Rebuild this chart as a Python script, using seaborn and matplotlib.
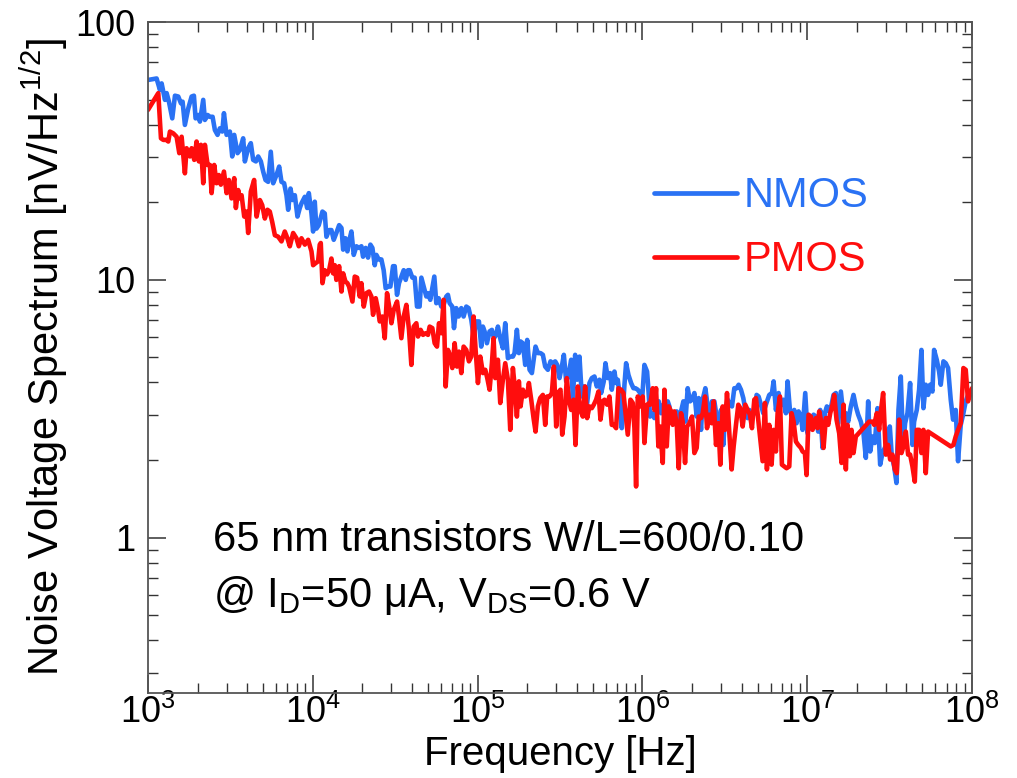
import matplotlib
matplotlib.use("Agg")
import matplotlib.pyplot as plt
import seaborn as sns
import pandas as pd
from matplotlib.ticker import LogLocator, NullFormatter, FuncFormatter

# Noise spectra of 65 nm transistors (W/L = 600/0.10), I_D = 50 uA, V_DS = 0.6 V
nmos_freq = [
    1000, 1128, 1182, 1210, 1268, 1298, 1340, 1404, 1458, 1527, 1585, 1622, 1675, 1755, 1840, 1900,
    1945, 2018, 2066, 2164, 2215, 2300, 2376, 2466, 2547, 2643, 2730, 2825, 2890, 2999, 3140, 3245,
    3337, 3494, 3610, 3781, 3871, 4055, 4207, 4347, 4516, 4665, 4841, 5000, 5166, 5360, 5560, 5750,
    6022, 6252, 6457, 6700, 6923, 7090, 7323, 7530, 7780, 8072, 8340, 8537, 8950, 9245, 9460, 9817,
    10046, 10280, 10520, 10870,
    11445, 11820, 12100, 12560, 12970, 13400, 13900, 14450, 14930, 15280, 15780, 16220, 16600, 17150,
    17720, 18400, 19100, 19720, 20180, 20940, 21640, 22360, 23000, 23760, 24320, 25120, 26070, 26920,
    27680, 28620, 29570, 30680, 31400, 32440, 33350, 34460, 35610, 36620, 37830, 38710, 40180, 41510,
    42890, 44480, 45570, 47080, 48840, 49970, 51630, 53110, 54620, 56150, 58010, 60200, 62200, 64560,
    66060, 67650, 70200, 71890, 74250, 76700, 79620, 82240, 85380, 88140, 91560, 94600, 98220, 101860,
    105200, 107600,
    110270, 113900, 118200, 122150, 125600, 129760, 132800, 137840, 142400, 147130, 152680, 157760,
    163720, 167570, 173130, 178030, 182220, 188240, 194490, 199990, 206630, 213470, 219500, 224660,
    232120, 240900, 248880, 257120, 266870, 276960, 286160, 295620, 304000, 314070, 324450, 333630,
    344700, 356100, 369580, 378270, 390760, 401790, 415090, 428820, 445060, 461880, 477220, 493080,
    511770, 528670, 548720, 561640, 582970, 596680, 616380, 636770, 651740, 676490, 692400, 708700,
    732100, 749300, 778000, 796200, 822700, 853800, 882100, 907100, 937100, 968100, 995400, 1028300,
    1067300, 1087400,
    1113000, 1144500, 1182000, 1221500, 1256000, 1297600, 1340700, 1378500, 1424000, 1457600, 1512900,
    1563000, 1614900, 1660500, 1715400, 1772300, 1822400, 1882600, 1945100, 1999900, 2066300, 2134600,
    2194900, 2267800, 2321200, 2409000, 2488800, 2571200, 2643800, 2731600, 2821800, 2901500, 2998000,
    3097000, 3184400, 3290200, 3398800, 3494800, 3611000, 3730200, 3835500, 3962900, 4093700, 4209400,
    4349200, 4451500, 4619600, 4772800, 4930600, 5069800, 5238300, 5411200, 5564200, 5748000, 5883400,
    6107000, 6251800, 6458200, 6703400, 6924700, 7153300, 7424000, 7599000, 7850000, 8072000, 8340000,
    8617000, 8860000, 9155000, 9370000, 9725000, 10046000, 10380000, 10772000,
    10925000, 11285000, 11658000, 11987000, 12383000, 12796000, 13157000, 13593000, 14044000, 14441000,
    14918000, 15413000, 15996000, 16603000, 17152000, 17720000, 18390000, 19088000, 19719000, 20374000,
    21147000, 21946000, 22675000, 23429000, 24091000, 24889000, 25711000, 26686000, 27697000, 28614000,
    29560000, 30683000, 31696000, 32594000, 33676000, 34787000, 35770000, 36954000, 38174000, 39253000,
    40559000, 42093000, 43491000, 44515000, 46196000, 47730000, 49310000, 50700000, 52384000, 54113000,
    55654000, 57488000, 58840000, 61070000, 63096000, 64583000, 67035000, 69244000, 71530000, 74245000,
    76697000, 79616000, 82251000, 85371000, 88606000, 91534000, 94581000, 100000000,
]
nmos_noise = [
    59.6, 60.4, 54.5, 57.8, 49.9, 53.0, 49.1, 42.3, 51.8, 51.4, 48.4, 49.1, 39.9, 46.2, 51.4, 51.8,
    42.3, 43.6, 41.1, 49.9, 41.7, 43.6, 42.9, 42.9, 38.1, 36.5, 38.7, 37.6, 44.3, 36.5, 37.6, 30.1,
    36.5, 31.0, 31.9, 35.4, 28.8, 32.4, 33.9, 29.2, 28.8, 30.1, 28.8, 26.3, 24.4, 24.0, 31.4, 23.7,
    25.5, 27.5, 24.0, 23.7, 21.3, 18.7, 22.6, 20.4, 21.3, 17.6, 19.0, 19.8, 21.0, 19.0, 21.7, 18.1,
    15.4, 20.1, 15.8, 16.3,
    18.4, 18.1, 14.7, 15.6, 15.6, 14.3, 15.2, 16.3, 15.9, 13.1, 14.5, 12.9, 14.1, 15.4,
    12.5, 13.5, 13.3, 13.5, 12.3, 13.3, 12.2, 13.7, 13.3, 11.4, 12.5, 12.0, 12.0, 10.9,
    9.28, 9.42, 9.42, 11.3, 11.3, 8.75, 9.71, 10.3, 10.9, 10.0, 10.9, 10.9, 10.2, 10.2,
    7.88, 7.88, 10.2, 9.42, 8.62, 8.88, 8.37, 9.28, 10.3, 8.12, 8.49, 7.88, 8.0, 8.62,
    8.75, 8.12, 7.88, 6.50, 7.77, 7.21, 7.77, 7.21, 7.88, 7.77, 7.0, 6.03, 6.90, 6.90,
    5.51, 6.59,
    6.31, 5.68, 6.31, 6.40, 5.94, 6.12, 6.59, 5.85, 5.43, 6.79, 4.97, 5.04,
    5.04, 5.20, 6.40, 5.20, 5.77, 5.68, 4.68, 5.85, 4.48, 4.35, 4.97, 5.51,
    5.20, 5.20, 5.12, 4.61, 4.48, 4.83, 4.75, 4.83, 4.68, 4.16, 4.61, 5.12,
    4.04, 4.28, 4.90, 3.43, 5.12, 4.10, 5.04, 3.53, 3.86, 3.33, 3.98, 4.16,
    4.22, 3.86, 4.10, 3.64, 4.04, 4.75, 4.16, 4.35, 3.75, 4.41, 3.98, 4.10,
    3.43, 2.66, 3.92, 4.75, 4.28, 3.98, 3.80, 3.80, 3.75, 3.64, 3.43, 4.68,
    4.41, 3.75,
    2.95, 3.04, 2.91, 3.38, 3.38, 3.04, 3.28, 3.18, 3.38, 3.23, 2.78,
    2.95, 3.09, 2.87, 3.09, 3.38, 2.82, 3.80, 3.38, 3.43, 3.64, 2.95,
    3.48, 2.62, 3.43, 3.80, 3.23, 2.82, 3.38, 3.38, 2.95, 2.62, 3.13,
    2.29, 3.13, 3.43, 3.28, 3.23, 3.80, 3.80, 3.92, 3.75, 3.48, 3.13,
    2.91, 3.13, 2.95, 3.04, 3.58, 3.53, 3.28, 3.04, 3.23, 3.43, 3.58,
    3.64, 4.04, 3.13, 3.64, 3.28, 3.43, 3.04, 4.04, 3.13, 2.95, 3.13,
    2.78, 3.09, 2.95, 2.62, 3.64, 2.54, 2.87, 2.74,
    3.00, 2.95, 2.58, 3.13, 2.23, 3.04, 3.23, 3.09, 3.28, 3.58,
    3.64, 2.78, 3.69, 2.95, 3.04, 2.82, 3.23, 3.58, 3.23, 3.00,
    2.82, 2.54, 2.04, 3.38, 2.16, 2.47, 2.33, 3.18, 1.92, 2.13,
    2.23, 2.33, 2.70, 2.07, 1.89, 1.63, 3.13, 4.22, 2.26, 2.78,
    3.04, 3.98, 2.29, 2.82, 3.13, 3.75, 5.35, 3.18, 3.92, 3.58,
    3.92, 3.69, 5.35, 4.90, 4.41, 3.92, 4.83, 4.75, 4.55, 3.43,
    2.87, 3.13, 1.98, 2.74, 3.04, 3.38, 3.58, 3.75,
]

pmos_freq = [
    1000, 1155, 1199, 1239, 1298, 1328, 1359, 1424, 1492, 1549, 1600, 1675, 1715, 1797, 1840, 1909,
    1972, 2037, 2095, 2164, 2215, 2300, 2376, 2432, 2523, 2607, 2692, 2768, 2890, 2999, 3097, 3213,
    3337, 3414, 3527, 3610, 3698, 3837, 3963, 4055, 4207, 4406, 4560, 4775, 4932, 5117, 5309, 5484,
    5670, 5888, 6166, 6457, 6761, 7015, 7256, 7600, 7960, 8222, 8537, 8950, 9370, 9817, 10046, 10380,
    10770, 11020,
    11180, 11445, 11820, 12210, 12560, 12970, 13280, 13600, 13900, 14450, 14930, 15280, 15780, 16220,
    16600, 17400, 17970, 18570, 19270, 19720, 20380, 21150, 21950, 22680, 23210, 24090, 24890, 25480,
    26440, 27320, 28220, 29300, 29990, 30970, 32450, 33350, 34460, 35610, 36960, 38350, 39630, 40940,
    42490, 43490, 45120, 46630, 48400, 50000, 51180, 53120, 54880, 56690, 58300, 60230, 62220, 63990,
    66100, 68290, 70230, 72550, 74950, 77080, 79620, 82250, 85370, 88600, 91540, 94580, 97250, 100470,
    103800, 107720,
    111300, 114450, 118200, 122150, 125030, 127970, 132800, 137200, 142400, 147130, 152680, 157760,
    163720, 167570, 173130, 178030, 182220, 188240, 194490, 199990, 204700, 211500, 218500, 224660,
    232120, 239800, 248880, 257120, 264400, 273200, 282200, 290200, 299800, 306800, 318400, 326000,
    336800, 347900, 357700, 369580, 381800, 392600, 405600, 419000, 434900, 449200, 461880, 477220,
    493080, 506970, 523800, 541100, 556500, 574900, 588400, 610700, 631000, 651740, 670300, 692400,
    715300, 742400, 767100, 796200, 815000, 845900, 873900, 894300, 915400, 937100, 972500, 1004700,
    1028300, 1067300, 1102600,
    1113000, 1155000, 1182000, 1210000, 1250000, 1279500, 1328600, 1359800, 1404900, 1444700, 1492300,
    1527400, 1563000, 1614900, 1660500, 1715400, 1755700, 1814000, 1865400, 1927000, 1999900, 2066300,
    2134600, 2194900, 2267800, 2321200, 2398000, 2465800, 2547500, 2631600, 2705900, 2795700, 2888000,
    2969700, 3068500, 3169800, 3259500, 3367600, 3478700, 3577000, 3695800, 3817800, 3925700, 4056000,
    4209400, 4349200, 4492500, 4619600, 4772800, 4885500, 5069800, 5190000, 5361700, 5537000, 5694400,
    5883400, 6077700, 6251800, 6458200, 6610000, 6829000, 7023000, 7255000, 7495000, 7780000, 8035000,
    8265000, 8538000, 8820000, 9155000, 9370000, 9681000, 9908000, 10188000, 10524000, 10772000,
    10925000, 11285000, 11550000, 11820000, 12213000, 12560000, 12974000, 13405000, 13785000, 14240000,
    14575000, 15059000, 15628000, 16147000, 16603000, 17152000, 17555000, 18138000, 18565000, 19088000,
    19719000, 23759000, 24889000, 25475000, 26438000, 27314000, 27956000, 28880000, 29977000, 30969000,
    31845000, 32903000, 33987000, 34948000, 36105000, 37297000, 38352000, 39627000, 40935000, 42093000,
    43491000, 44927000, 46196000, 47730000, 49310000, 50700000, 52384000, 54113000, 74245000, 77066000,
    79616000, 82251000, 85371000, 88606000, 91534000, 94581000, 100000000,
]
pmos_noise = [
    45.6, 53.0, 35.4, 34.9, 34.9, 34.4, 37.6, 37.0, 35.9, 31.0, 35.9, 25.9, 32.4, 30.1, 32.4, 29.2,
    34.4, 28.8, 33.4, 23.7, 33.4, 27.9, 27.9, 21.7, 27.9, 23.7, 25.5, 23.4, 26.3, 21.7, 24.4, 20.7,
    24.8, 19.0, 22.3, 20.7, 21.3, 17.6, 18.4, 15.2, 22.0, 24.4, 17.6, 20.4, 19.5, 17.3, 18.7, 18.4,
    16.8, 14.9, 14.7, 14.1, 15.4, 14.5, 13.5, 15.2, 14.5, 13.5, 14.5, 13.7, 14.3, 12.9, 11.4, 11.6,
    11.8, 13.7,
    13.9, 9.71, 10.9, 10.5, 10.9, 12.1, 10.6, 11.4, 10.0, 11.3, 9.01, 10.6, 9.85, 9.71,
    9.42, 8.24, 10.3, 10.2, 8.62, 9.71, 7.88, 8.88, 9.01, 8.62, 7.32, 8.49, 7.65, 6.90,
    7.21, 5.94, 8.88, 7.65, 6.79, 7.65, 8.24, 7.21, 5.94, 7.21, 8.0, 6.40, 4.68, 6.59,
    6.79, 6.03, 6.40, 6.12, 6.21, 6.12, 6.59, 6.50, 5.68, 5.51, 6.79, 6.21, 8.37, 3.86,
    5.35, 5.04, 4.55, 5.68, 4.61, 5.27, 4.35, 5.51, 5.35, 4.83, 5.04, 7.21, 5.35, 3.98,
    5.04, 4.35,
    4.48, 4.16, 3.75, 4.75, 5.94, 4.16, 4.90, 3.33, 4.10, 4.75, 4.10, 2.62,
    4.55, 3.92, 2.95, 4.04, 3.23, 3.75, 3.53, 3.58, 3.98, 3.43, 2.91, 2.58,
    3.23, 3.48, 3.58, 2.74, 3.53, 3.53, 3.64, 4.61, 2.70, 3.64, 3.75, 2.51,
    2.95, 4.16, 3.43, 3.13, 3.43, 2.29, 3.86, 3.13, 2.95, 3.86, 2.91, 3.23,
    3.18, 3.28, 3.43, 3.69, 2.87, 3.38, 3.43, 3.28, 3.53, 2.74, 2.74, 2.66,
    3.80, 3.75, 3.64, 2.91, 2.51, 3.43, 3.33, 2.66, 1.58, 3.53, 3.23, 3.53,
    2.33, 3.28, 3.33,
    3.28, 3.80, 3.13, 3.80, 2.26, 2.70, 1.95, 3.75, 2.26, 3.23, 3.09,
    2.74, 3.09, 2.78, 1.86, 3.04, 2.82, 1.95, 2.70, 2.78, 2.95, 2.13,
    2.23, 2.95, 2.91, 3.04, 3.53, 2.66, 3.00, 2.78, 3.38, 2.29, 2.78,
    1.92, 3.23, 2.62, 3.64, 2.54, 1.84, 2.26, 2.74, 3.28, 3.18, 2.70,
    3.28, 3.13, 3.00, 2.66, 3.43, 3.48, 2.78, 2.40, 1.98, 3.33, 1.84,
    2.74, 1.92, 2.62, 2.16, 3.04, 3.53, 1.92, 1.89, 1.86, 1.89, 3.04,
    2.82, 2.36, 2.29, 2.23, 2.16, 2.13, 1.75, 3.00, 2.95, 2.62,
    2.70, 2.91, 2.66, 3.09, 2.78, 2.23, 2.91, 2.74, 3.04, 3.28,
    3.58, 2.87, 2.54, 1.95, 3.28, 1.84, 2.74, 2.07, 2.62, 2.13,
    2.47, 2.82, 2.82, 2.74, 3.04, 2.62, 3.09, 3.64, 2.10, 2.29,
    2.01, 2.10, 1.84, 1.78, 2.87, 2.13, 2.26, 2.58, 2.10, 2.10,
    1.89, 1.65, 2.62, 2.62, 2.13, 2.62, 1.78, 2.58, 2.26, 2.29,
    2.47, 2.62, 2.78, 4.55, 4.48, 3.38, 3.80,
]

devices = ["NMOS", "PMOS"]
colors = {"NMOS": "#2a72f4", "PMOS": "#ff0d0d"}

df = pd.concat([
    pd.DataFrame({"freq": nmos_freq, "noise": nmos_noise, "device": "NMOS"}),
    pd.DataFrame({"freq": pmos_freq, "noise": pmos_noise, "device": "PMOS"}),
], ignore_index=True)

sns.set_theme(style="ticks")
plt.rcParams["font.family"] = ["Liberation Sans", "DejaVu Sans"]
plt.rcParams["mathtext.fontset"] = "custom"
plt.rcParams["mathtext.rm"] = "Liberation Sans"
plt.rcParams["mathtext.it"] = "Liberation Sans"
plt.rcParams["text.color"] = "black"
plt.rcParams["axes.labelcolor"] = "black"

fig = plt.figure(figsize=(10.17, 7.78), dpi=100)
ax = fig.add_axes([0.1455, 0.1093, 0.8103, 0.8624])

sns.lineplot(data=df, x="freq", y="noise", hue="device", hue_order=devices,
             palette=colors, sort=False, estimator=None, linewidth=3.3, ax=ax)

ax.set_xscale("log")
ax.set_yscale("log")
ax.set_xlim(1e3, 1e8)
ax.set_ylim(0.25, 100)

ax.yaxis.set_major_locator(LogLocator(base=10, numticks=10))
ax.yaxis.set_major_formatter(FuncFormatter(lambda v, p: f"{v:g}"))
ax.yaxis.set_minor_locator(LogLocator(base=10, subs=range(2, 10), numticks=20))
ax.yaxis.set_minor_formatter(NullFormatter())
ax.xaxis.set_minor_locator(LogLocator(base=10, subs=range(2, 10), numticks=20))
ax.xaxis.set_minor_formatter(NullFormatter())

ax.tick_params(which="both", direction="in", top=True, right=True, colors="#333333",
               labelcolor="black")
ax.tick_params(which="major", length=13, width=1.1, labelsize=26)
ax.tick_params(which="minor", length=7, width=1.0)
ax.tick_params(axis="x", which="major", pad=1)
ax.tick_params(axis="y", which="major", pad=9)
for s in ax.spines.values():
    s.set_color("#555555")
    s.set_linewidth(1.3)

ax.set_xlabel("Frequency [Hz]", fontsize=29, labelpad=3)
ax.set_ylabel(r"Noise Voltage Spectrum [nV/Hz$^{\mathregular{1/2}}$]", fontsize=30, labelpad=4)

leg = ax.legend(loc="upper left", bbox_to_anchor=(0.568, 0.826), frameon=False,
                fontsize=30, handlelength=2.0, handletextpad=0.15, labelspacing=0.58,
                labelcolor="linecolor")
for line in leg.get_lines():
    line.set_linewidth(3.4)

ax.text(0.079, 0.228, "65 nm transistors W/L=600/0.10", transform=ax.transAxes,
        fontsize=30, va="center", ha="left")
ax.text(0.079, 0.145, r"@ I$_{\mathregular{D}}$=50 μA, V$_{\mathregular{DS}}$=0.6 V",
        transform=ax.transAxes, fontsize=30, va="center", ha="left")

fig.savefig("out.png", dpi=100)
